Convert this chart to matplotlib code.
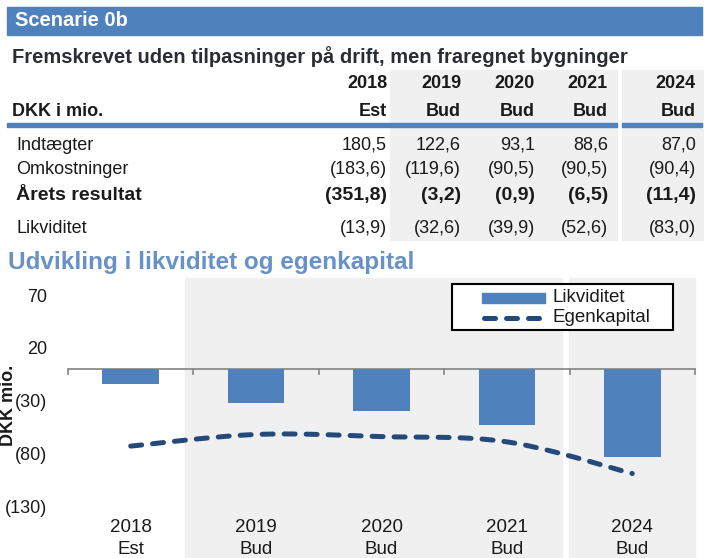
import matplotlib
matplotlib.use('Agg')
import matplotlib.pyplot as plt
import numpy as np
from matplotlib.patches import Rectangle
from matplotlib.lines import Line2D

plt.rcParams['font.family'] = ['Liberation Sans', 'DejaVu Sans']

# data
aar = ['2018', '2019', '2020', '2021', '2024']
typer = ['Est', 'Bud', 'Bud', 'Bud', 'Bud']
indtaegter = [180.5, 122.6, 93.1, 88.6, 87.0]
omkostninger = [-183.6, -119.6, -90.5, -90.5, -90.4]
resultat = [-351.8, -3.2, -0.9, -6.5, -11.4]
likviditet = [-13.9, -32.6, -39.9, -52.6, -83.0]
egenkapital = [-73, -62, -64, -69, -99]
y_ticks = [70, 20, -30, -80, -130]

W, H = 704, 558
fig = plt.figure(figsize=(W / 100, H / 100), dpi=100)

BLUE = '#4f81bd'
DARK = '#244a7c'
GRAY = '#f0f0f0'
TXT = '#1a1a1a'


def fx(px):
    return px / W


def fy(py):
    return 1 - py / H


def box(x0, y0, x1, y1, **kw):
    fig.patches.append(Rectangle((fx(x0), fy(y1)), fx(x1) - fx(x0), fy(y0) - fy(y1),
                                 transform=fig.transFigure, **kw))


def fmt(v):
    s = f'{abs(v):.1f}'.replace('.', ',')
    return f'({s})' if v < 0 else s


def smooth(x, y, n=30):
    # Excel-lignende udglattet linje (Catmull-Rom / Bezier)
    p = np.column_stack([x, y]).astype(float)
    p = np.vstack([p[0], p, p[-1]])
    out = []
    t = np.linspace(0, 1, n)[:, None]
    for i in range(1, len(p) - 2):
        p0, p1, p2, p3 = p[i - 1], p[i], p[i + 1], p[i + 2]
        c1 = p1 + (p2 - p0) / 6
        c2 = p2 - (p3 - p1) / 6
        seg = (1 - t) ** 3 * p1 + 3 * (1 - t) ** 2 * t * c1 + 3 * (1 - t) * t ** 2 * c2 + t ** 3 * p2
        out.append(seg if i == 1 else seg[1:])
    out = np.vstack(out)
    return out[:, 0], out[:, 1]


# overskrift
box(7, 7, 702, 35, color=BLUE)
fig.text(fx(15), fy(21), 'Scenarie 0b', color='white', fontsize=14.5, fontweight='bold', va='center')
fig.text(fx(12), fy(57), 'Fremskrevet uden tilpasninger på drift, men fraregnet bygninger',
         fontsize=14.5, fontweight='bold', color='#2b2d35', va='center')

# tabel
box(390, 70, 617, 240, color=GRAY, zorder=0)
box(622, 70, 704, 240, color=GRAY, zorder=0)
box(7, 123, 617, 127, color=BLUE)
box(622, 123, 702, 127, color=BLUE)

cols = [387, 461, 535, 608, 696]
fig.text(fx(12), fy(111), 'DKK i mio.', fontsize=13, fontweight='bold', color=TXT, va='center')
for i, c in enumerate(cols):
    fig.text(fx(c), fy(84), aar[i], fontsize=13, fontweight='bold', color=TXT, ha='right', va='center')
    fig.text(fx(c), fy(111), typer[i], fontsize=13, fontweight='bold', color=TXT, ha='right', va='center')

rows = [('Indtægter', indtaegter, 145, 'normal', 13),
        ('Omkostninger', omkostninger, 169, 'normal', 13),
        ('Årets resultat', resultat, 195, 'bold', 14),
        ('Likviditet', likviditet, 229, 'normal', 13)]
for label, vals, yy, w, fs in rows:
    fig.text(fx(16), fy(yy), label, fontsize=fs, fontweight=w, color=TXT, va='center')
    for c, v in zip(cols, vals):
        fig.text(fx(c), fy(yy), fmt(v), fontsize=fs, fontweight=w, color=TXT, ha='right', va='center')

# diagram
fig.text(fx(8), fy(263), 'Udvikling i likviditet og egenkapital', fontsize=17.5, fontweight='bold',
         color='#6891c8', va='center')
box(185, 278, 562, 558, color=GRAY, zorder=0)
box(569, 278, 695, 558, color=GRAY, zorder=0)

ax = fig.add_axes([fx(68), 0, fx(695) - fx(68), (558 - 278) / 558])
ax.set_zorder(2)
ax.patch.set_visible(False)
ax.set_xlim(-0.5, 4.5)
ax.set_ylim((369 - 558) / 1.056, (369 - 278) / 1.056)
for s in ax.spines.values():
    s.set_visible(False)

x = np.arange(len(aar))
ax.bar(x, likviditet, width=0.45, color=BLUE, zorder=3)
xs, ys = smooth(x, egenkapital)
ax.plot(xs, ys, color=DARK, lw=3.6, linestyle=(0, (2.2, 2.2)), dash_capstyle='round', zorder=4)

ax.axhline(0, color='#8c8c8c', lw=1.3, zorder=2)
for b in np.arange(-0.5, 5, 1):
    ax.plot([b, b], [0, -4.5], color='#8c8c8c', lw=1.3, zorder=2, clip_on=False)

ax.set_xticks([])
ax.set_yticks(y_ticks)
ax.set_yticklabels([fmt(v).replace(',0', '') for v in y_ticks], fontsize=13, color=TXT)
ax.tick_params(axis='y', length=0, pad=15)
for i in x:
    ax.text(i, -150.5, aar[i], fontsize=13.5, color=TXT, ha='center', va='center')
    ax.text(i, -171, typer[i], fontsize=13.5, color=TXT, ha='center', va='center')

fig.text(fx(9), fy(405), 'DKK mio.', rotation=90, fontsize=13, fontweight='bold', color=TXT,
         ha='center', va='center')

# forklaring
fig.patches.append(Rectangle((fx(452), fy(330)), fx(673) - fx(452), fy(284) - fy(330),
                             transform=fig.transFigure, facecolor='white', edgecolor='black',
                             lw=1.5, zorder=5))
box(482, 293, 545, 303, color=BLUE, zorder=6)
fig.add_artist(Line2D([fx(484), fx(543)], [fy(318), fy(318)], color=DARK, lw=3.6,
                      linestyle=(0, (2.2, 2.2)), dash_capstyle='round', zorder=6))
fig.text(fx(553), fy(298), 'Likviditet', fontsize=13.5, color=TXT, va='center', zorder=6)
fig.text(fx(553), fy(318), 'Egenkapital', fontsize=13.5, color=TXT, va='center', zorder=6)

fig.savefig('out.png', dpi=100)
